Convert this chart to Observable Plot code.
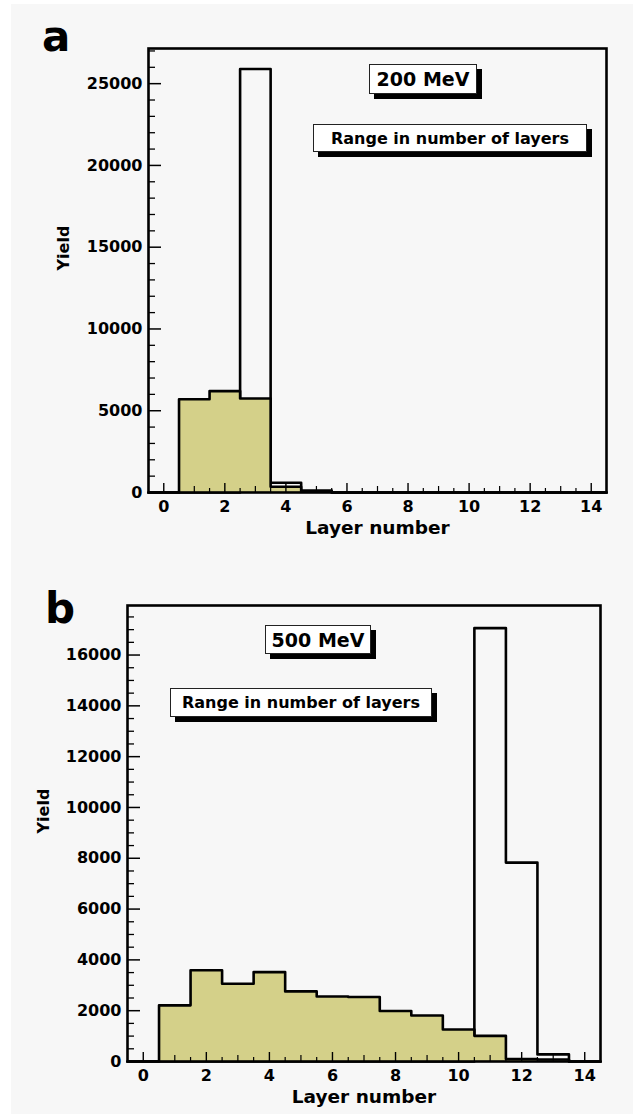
<!DOCTYPE html>
<html><head><meta charset="utf-8">
<script src="https://cdn.jsdelivr.net/npm/d3@7"></script>
<script src="https://cdn.jsdelivr.net/npm/@observablehq/plot@0.6"></script>
<style>
html,body{margin:0;padding:0;background:#fff;}
#page{position:relative;width:633px;height:1114px;overflow:hidden;font-family:"DejaVu Sans",sans-serif;font-weight:bold;color:#000;}
#bg{position:absolute;left:11px;top:4px;right:0;bottom:0;background:#f7f7f7;}
.plot{position:absolute;left:0;}
.tag{position:absolute;font-size:42px;line-height:42px;}
.box{position:absolute;background:#fff;border:1.5px solid #222;box-shadow:5px 5px 0 #000;box-sizing:border-box;display:flex;align-items:center;justify-content:center;white-space:nowrap;}
</style></head>
<body>
<div id="page">
  <div id="bg"></div>
  <div id="pa" class="plot" style="top:0px"></div>
  <div id="pb" class="plot" style="top:545px"></div>
  <div class="tag" style="left:42px;top:16px">a</div>
  <div class="tag" style="left:45px;top:588px">b</div>
  <div class="box" style="left:369px;top:64px;width:108px;height:30px;font-size:19px">200 MeV</div>
  <div class="box" style="left:313px;top:124px;width:274px;height:28px;font-size:16px">Range in number of layers</div>
  <div class="box" style="left:265px;top:625px;width:106px;height:29px;font-size:19px">500 MeV</div>
  <div class="box" style="left:170px;top:688px;width:262px;height:29px;font-size:16px">Range in number of layers</div>
</div>
<script>
// Layer numbers (bin centres)
const layers = [0, 1, 2, 3, 4, 5, 6, 7, 8, 9, 10, 11, 12, 13, 14];

// Panel a (200 MeV)
const aYield = [0, 5700, 6200, 5750, 350, 50, 0, 0, 0, 0, 0, 0, 0, 0, 0];       // filled histogram
const aRange = [0, 0, 0, 25900, 600, 120, 0, 0, 0, 0, 0, 0, 0, 0, 0];          // range histogram (outline)

// Panel b (500 MeV)
const bYield = [0, 2210, 3590, 3060, 3520, 2760, 2560, 2540, 1985, 1810, 1260, 1010, 100, 80, 0];
const bRange = [0, 0, 0, 0, 0, 0, 0, 0, 0, 0, 0, 17060, 7830, 280, 0];

// Tick labels
const xTickLabels = [0, 2, 4, 6, 8, 10, 12, 14];
const aYTicks = [0, 5000, 10000, 15000, 20000, 25000];
const bYTicks = [0, 2000, 4000, 6000, 8000, 10000, 12000, 14000, 16000];

const fillColor = "#d4d089";

function steps(vals) {
  const pts = [{x: layers[0] - 0.5, y: 0}];
  vals.forEach((v, i) => { pts.push({x: layers[i] - 0.5, y: v}, {x: layers[i] + 0.5, y: v}); });
  pts.push({x: layers[layers.length - 1] + 0.5, y: 0});
  return pts;
}

function panel({fill, open, yMax, yTicks, yMinorStep, height, ml, mr, mt, mb, yieldDx}) {
  const xDom = [layers[0] - 0.5, layers[layers.length - 1] + 0.5];
  const pxPerX = (633 - ml - mr) / (xDom[1] - xDom[0]);   // pixels per layer
  const pxPerY = (height - mt - mb) / yMax;               // pixels per count
  const yMinor = d3.range(0, yMax, yMinorStep).filter(v => !yTicks.includes(v));
  const xMinor = d3.range(0.5, 14.5, 0.5).filter(v => !xTickLabels.includes(v));
  const xMid = xMinor.filter(v => Number.isInteger(v));
  const xSmall = xMinor.filter(v => !Number.isInteger(v));
  const yTickMarks = (vals, len, w) => Plot.ruleY(vals, {y: d => d, x1: () => xDom[0], x2: () => xDom[0] + len / pxPerX, stroke: "#000", strokeWidth: w});
  const xTickMarks = (vals, len, w) => Plot.ruleX(vals, {x: d => d, y1: () => 0, y2: () => len / pxPerY, stroke: "#000", strokeWidth: w});
  return Plot.plot({
    width: 633, height,
    marginLeft: ml, marginRight: mr, marginTop: mt, marginBottom: mb,
    x: {domain: xDom, axis: null},
    y: {domain: [0, yMax], axis: null},
    style: {background: "transparent", fontFamily: "DejaVu Sans", fontWeight: "bold", fontSize: "16px", color: "#000"},
    marks: [
      Plot.line(steps(open), {x: "x", y: "y", stroke: "#000", strokeWidth: 2.6}),
      Plot.areaY(steps(fill), {x: "x", y1: () => 0, y2: "y", fill: fillColor}),
      Plot.line(steps(fill), {x: "x", y: "y", stroke: "#000", strokeWidth: 2.6}),
      // inward ticks
      yTickMarks(yTicks, 13, 1.5),
      yTickMarks(yMinor, 7, 1.3),
      xTickMarks(xTickLabels, 9, 1.4),
      xTickMarks(xMid, 6, 1.2),
      xTickMarks(xSmall, 4, 1.2),
      Plot.frame({stroke: "#000", strokeWidth: 2.6}),
      Plot.axisY(yTicks, {anchor: "left", tickSize: 0, tickPadding: 6, tickFormat: "d", label: null, fontSize: 16, fontWeight: "bold"}),
      Plot.axisX(xTickLabels, {anchor: "bottom", tickSize: 0, tickPadding: 8, tickFormat: "d", label: null, fontSize: 16, fontWeight: "bold"}),
      Plot.text(["Yield"], {text: d => d, frameAnchor: "left", rotate: -90, dx: yieldDx, fontSize: 16, fontWeight: "bold"}),
      Plot.text(["Layer number"], {text: d => d, frameAnchor: "bottom", dy: 41, lineAnchor: "bottom", fontSize: 18.5, fontWeight: "bold"})
    ]
  });
}

document.getElementById("pa").append(panel({
  fill: aYield, open: aRange, yMax: 27150, yTicks: aYTicks, yMinorStep: 1000,
  height: 545, ml: 148, mr: 27, mt: 48, mb: 53, yieldDx: -85
}));
document.getElementById("pb").append(panel({
  fill: bYield, open: bRange, yMax: 17950, yTicks: bYTicks, yMinorStep: 500,
  height: 569, ml: 127, mr: 33, mt: 60, mb: 53, yieldDx: -84
}));
</script>
</body></html>
